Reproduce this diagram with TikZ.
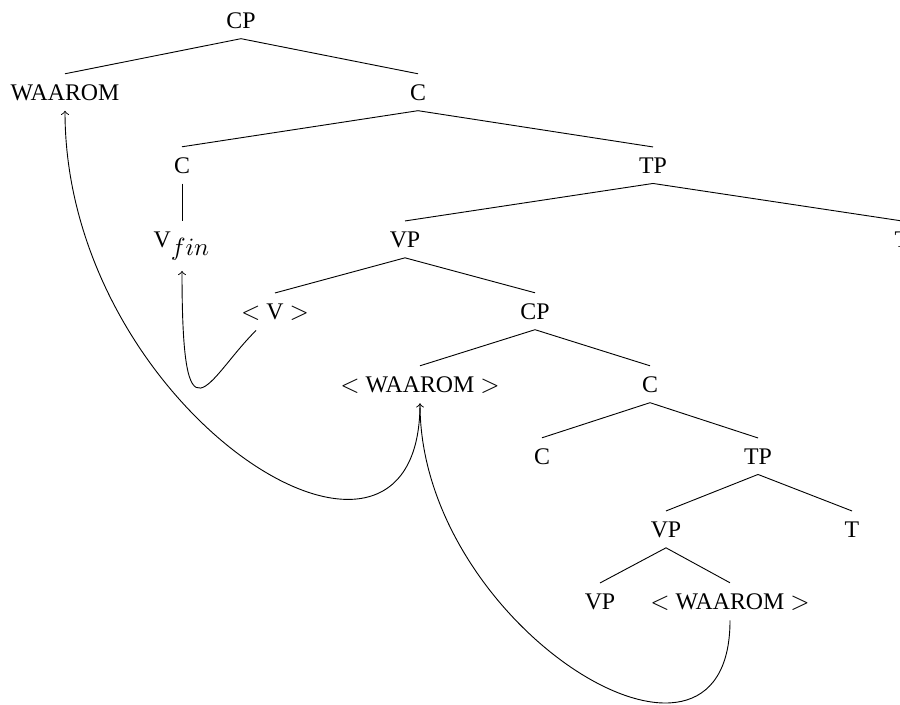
\documentclass[tikz,border=0pt]{standalone}
\usepackage{fontspec}
\setmainfont{Liberation Serif}
\begin{document}
\begin{tikzpicture}[x=0.4405pt,y=-0.4405pt,
  lbl/.style={anchor=base, inner ysep=4.4pt, inner xsep=1pt, font=\fontsize{10.5pt}{12.5pt}\selectfont},
  edge/.style={line width=0.4pt},
  move/.style={line width=0.4pt,->}]
\useasboundingbox (0,0) rectangle (900,704);
\clip (0,0) rectangle (900,704);
\node[lbl] (cp0) at (241,28) {CP};
\node[lbl] (wh) at (65,100) {WAAROM};
\node[lbl] (c1) at (418,100) {C};
\node[lbl] (c2) at (182,173) {C};
\node[lbl] (tp1) at (653,173) {TP};
\node[lbl] (vfin) at (182,247) {V$_{\textstyle fin}$};
\node[lbl] (vp1) at (405,247) {VP};
\node[lbl] (t1) at (902,247) {T};
\node[lbl] (v) at (275,319) {$<$ V $>$};
\node[lbl] (cp2) at (535,319) {CP};
\node[lbl] (wh6) at (420,392) {$<$ WAAROM $>$};
\node[lbl] (c3) at (650,392) {C};
\node[lbl] (c4) at (542,464) {C};
\node[lbl] (tp2) at (758,464) {TP};
\node[lbl] (vp2) at (666,537) {VP};
\node[lbl] (t2) at (852,537) {T};
\node[lbl] (vp3) at (600,609) {VP};
\node[lbl] (wh9) at (730,609) {$<$ WAAROM $>$};
\draw[edge] (cp0.south) -- (wh.north);
\draw[edge] (cp0.south) -- (c1.north);
\draw[edge] (c1.south) -- (c2.north);
\draw[edge] (c1.south) -- (tp1.north);
\draw[edge] (c2.south) -- (vfin.north);
\draw[edge] (tp1.south) -- (vp1.north);
\draw[edge] (tp1.south) -- (t1.north);
\draw[edge] (vp1.south) -- (v.north);
\draw[edge] (vp1.south) -- (cp2.north);
\draw[edge] (cp2.south) -- (wh6.north);
\draw[edge] (cp2.south) -- (c3.north);
\draw[edge] (c3.south) -- (c4.north);
\draw[edge] (c3.south) -- (tp2.north);
\draw[edge] (tp2.south) -- (vp2.north);
\draw[edge] (tp2.south) -- (t2.north);
\draw[edge] (vp2.south) -- (vp3.north);
\draw[edge] (vp2.south) -- (wh9.north);
\draw[move] (v) .. controls (207,379) and (182,455) .. (vfin);
\draw[move] (wh6) .. controls (420,635) and (65,412) .. (wh);
\draw[move] (wh9) .. controls (730,818) and (420,627) .. (wh6);
\end{tikzpicture}
\end{document}
